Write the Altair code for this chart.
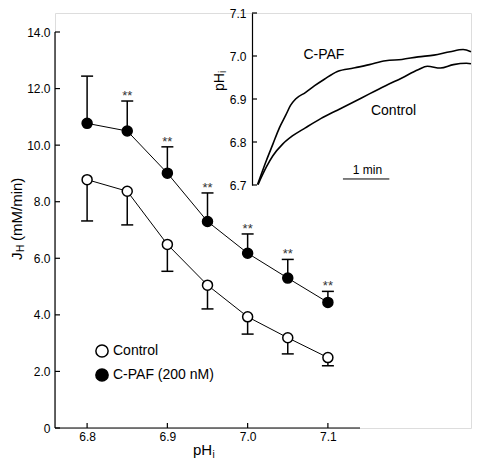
import altair as alt
import pandas as pd

FONT = "Liberation Sans"

# ---- main panel data ----
ph = [6.8, 6.85, 6.9, 6.95, 7.0, 7.05, 7.1]
control_mean = [8.78, 8.37, 6.49, 5.05, 3.93, 3.19, 2.49]
control_lower = [7.32, 7.18, 5.54, 4.21, 3.32, 2.62, 2.20]
cpaf_mean = [10.77, 10.50, 9.01, 7.30, 6.18, 5.30, 4.44]
cpaf_upper = [12.44, 11.56, 9.94, 8.31, 6.86, 5.96, 4.83]
stars = ["", "**", "**", "**", "**", "**", "**"]
groups = ["Control", "C-PAF (200 nM)"]

x_domain = [6.76, 7.14]
y_domain = [0, 14]
x_ticks = [6.8, 6.9, 7.0, 7.1]
y_ticks = [0, 2, 4, 6, 8, 10, 12, 14]

# ---- inset data ----
cpaf_t = [0.12, 0.20, 0.31, 0.45, 0.59, 0.73, 0.83, 0.94, 1.15, 1.35, 1.56,
          1.84, 2.19, 2.53, 2.88, 3.23, 3.58, 3.92, 4.27, 4.55, 4.72]
cpaf_ph = [6.701, 6.725, 6.757, 6.795, 6.833, 6.863, 6.885, 6.900, 6.915, 6.931, 6.946,
           6.964, 6.972, 6.980, 6.989, 6.992, 6.998, 7.002, 7.010, 7.015, 7.010]
ctrl_t = [0.13, 0.31, 0.45, 0.66, 0.87, 1.15, 1.49, 1.84, 2.19, 2.53, 2.88,
          3.23, 3.58, 3.78, 4.06, 4.34, 4.62, 4.72]
ctrl_ph = [6.701, 6.742, 6.768, 6.795, 6.814, 6.833, 6.855, 6.874, 6.893, 6.912, 6.931,
           6.949, 6.968, 6.976, 6.972, 6.980, 6.983, 6.982]
inset_ticks = [6.7, 6.8, 6.9, 7.0, 7.1]
inset_labels = ["C-PAF", "Control", "1 min"]
inset_label_t = [1.55, 3.05, 2.49]
inset_label_ph = [7.003, 6.872, 6.736]
bar_t = [1.96, 2.96]
bar_ph = 6.714

# ---- tables ----
rows = []
for i, p in enumerate(ph):
    rows.append(dict(ph=p, group=groups[0], mean=control_mean[i], end=control_lower[i], stars=""))
    rows.append(dict(ph=p, group=groups[1], mean=cpaf_mean[i], end=cpaf_upper[i], stars=stars[i]))
df = pd.DataFrame(rows)

trace = pd.DataFrame(
    [dict(t=a, v=b, s="C-PAF") for a, b in zip(cpaf_t, cpaf_ph)]
    + [dict(t=a, v=b, s="Control") for a, b in zip(ctrl_t, ctrl_ph)]
)
ann = pd.DataFrame(dict(t=inset_label_t, v=inset_label_ph, label=inset_labels))
bar = pd.DataFrame(dict(t=[bar_t[0]], t2=[bar_t[1]], v=[bar_ph]))
one = pd.DataFrame(dict(a=[0]))

# ---- scales / axes ----
xs = alt.Scale(domain=x_domain, range=[0, 305], nice=False, zero=False)
ys = alt.Scale(domain=y_domain, range=[415, 19], nice=False, zero=False)
ax_x = alt.Axis(values=x_ticks, format=".1f", ticks=False, tickSize=0, labelPadding=3,
                labelFontSize=12, labelFont=FONT, labelColor="black", grid=False,
                domain=False, title="")
ax_y = alt.Axis(values=y_ticks, labelExpr="datum.value == 0 ? '0' : format(datum.value, '.1f')",
                ticks=False, tickSize=0, labelPadding=5, labelFontSize=12, labelFont=FONT,
                labelColor="black", grid=False, domain=False, title="")
X = alt.X("ph:Q", scale=xs, axis=ax_x)

fill = alt.Fill("group:N", scale=alt.Scale(domain=groups, range=["white", "black"]),
                legend=alt.Legend(orient="none", legendX=40, legendY=331, title=None,
                                  symbolType="circle", symbolSize=150, symbolStrokeColor="black",
                                  symbolStrokeWidth=1.5, symbolOpacity=1, labelFontSize=14,
                                  labelFont=FONT, labelColor="black", rowPadding=4, padding=0,
                                  labelOffset=4))

base = alt.Chart(df)
lines = base.mark_line(color="black", strokeWidth=1).encode(
    x=X, y=alt.Y("mean:Q", scale=ys, axis=ax_y), detail="group:N")
err = base.mark_rule(color="black", strokeWidth=1.5).encode(
    x=X, y=alt.Y("mean:Q", scale=ys, axis=ax_y), y2="end:Q")
caps = base.mark_tick(color="black", orient="horizontal", size=12, thickness=1.5, opacity=1).encode(
    x=X, y=alt.Y("end:Q", scale=ys, axis=ax_y))
pts = base.mark_circle(size=100, stroke="black", strokeWidth=1.5, opacity=1).encode(
    x=X, y=alt.Y("mean:Q", scale=ys, axis=ax_y), fill=fill)
star = base.transform_filter(alt.datum.stars != "").mark_text(
    fontSize=13, font=FONT, color="#333", baseline="alphabetic", dy=-1).encode(
    x=X, y=alt.Y("end:Q", scale=ys, axis=ax_y), text="stars:N")

# axis lines and inward ticks
xdom = alt.Chart(pd.DataFrame(dict(ph=[x_domain[0]], b=[x_domain[1]]))).mark_rule(
    color="black", strokeWidth=1.2).encode(x=X, x2="b:Q", y=alt.value(415))
ydom = alt.Chart(pd.DataFrame(dict(mean=[y_domain[0]], b=[y_domain[1]]))).mark_rule(
    color="black", strokeWidth=1.2).encode(y=alt.Y("mean:Q", scale=ys, axis=ax_y), y2="b:Q",
                                           x=alt.value(0))
ytk = alt.Chart(pd.DataFrame(dict(mean=y_ticks))).mark_rule(color="black", strokeWidth=1.2).encode(
    y=alt.Y("mean:Q", scale=ys, axis=ax_y), x=alt.value(0), x2=alt.value(5))
xtk = alt.Chart(pd.DataFrame(dict(ph=x_ticks))).mark_rule(color="black", strokeWidth=1.2).encode(
    x=X, y=alt.value(415), y2=alt.value(410))

def txt(s, x, y, size, angle=0):
    kw = dict(text=s, fontSize=size, font=FONT, color="black", align="left", baseline="alphabetic")
    if angle:
        kw["angle"] = angle
    return alt.Chart(one).mark_text(**kw).encode(x=alt.value(x), y=alt.value(y))

titles = [
    txt("J", -33, 247, 15, 270),
    txt("H", -31.5, 239, 10, 270),
    txt("(mM/min)", -33, 228, 15, 270),
    txt("pH", 138, 442, 15),
    txt("i", 157.5, 444.5, 10),
    txt("pH", 169, 78, 14, 270),
    txt("i", 171, 60, 10, 270),
]

main = alt.layer(lines, err, caps, pts, star, xdom, ydom, ytk, xtk, *titles)

# ---- inset ----
ixs = alt.Scale(domain=[0, 4.72], range=[197, 416], nice=False, zero=False)
iys = alt.Scale(domain=[6.7, 7.1], range=[172, 0], nice=False, zero=False)
ax_iy = alt.Axis(orient="left", offset=-197, values=inset_ticks, format=".1f", ticks=False,
                 tickSize=0, labelPadding=6, labelFontSize=12, labelFont=FONT, labelColor="black",
                 grid=False, domain=True, domainColor="black", domainWidth=1.2, title="")
IX = alt.X("t:Q", scale=ixs, axis=None)
IY = alt.Y("v:Q", scale=iys, axis=ax_iy)

tr = alt.Chart(trace).mark_line(color="black", strokeWidth=1.6, interpolate="monotone").encode(
    x=IX, y=IY, detail="s:N")
itk = alt.Chart(pd.DataFrame(dict(v=inset_ticks))).mark_rule(color="black", strokeWidth=1.2).encode(
    y=IY, x=alt.value(197), x2=alt.value(202))
itext = alt.Chart(ann).mark_text(fontSize=14, font=FONT, color="black", align="center",
                                 baseline="middle").encode(
    x=IX, y=IY, text="label:N",
    size=alt.condition(alt.datum.label == "1 min", alt.value(12), alt.value(14)))
ibar = alt.Chart(bar).mark_rule(color="black", strokeWidth=1).encode(x=IX, x2="t2:Q", y=IY)

inset = alt.layer(tr, itk, itext, ibar)

chart = alt.layer(main, inset).resolve_scale(x="independent", y="independent").properties(
    width=416, height=415,
    padding={"left": 47, "top": 5, "right": 1, "bottom": 32},
    autosize=alt.AutoSizeParams(type="none"),
).configure_view(stroke=None).configure_axisX(domain=False, grid=False).configure(font=FONT)

chart.save("out.html", embed_options={"renderer": "svg", "actions": False})
